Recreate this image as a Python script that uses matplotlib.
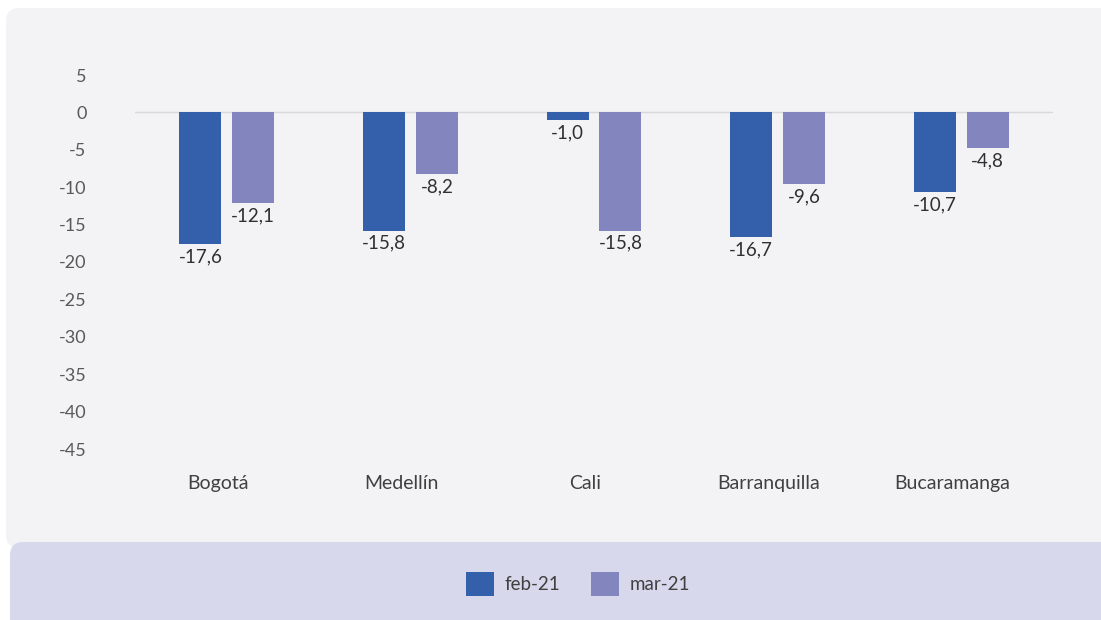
import numpy as np
import matplotlib.pyplot as plt
from matplotlib.patches import FancyBboxPatch, Patch

plt.rcParams['font.family'] = ['Lato', 'DejaVu Sans']
plt.rcParams['axes.unicode_minus'] = False

cities = ['Bogotá', 'Medellín', 'Cali', 'Barranquilla', 'Bucaramanga']
feb = [-17.6, -15.8, -1.0, -16.7, -10.7]
mar = [-12.1, -8.2, -15.8, -9.6, -4.8]
yticks = [5, 0, -5, -10, -15, -20, -25, -30, -35, -40, -45]

W, H = 1101, 620
fig = plt.figure(figsize=(W / 100, H / 100), dpi=100)
fig.patch.set_facecolor('white')

# background panels
fig.patches.append(FancyBboxPatch((6 / W, 1 - 548 / H), 1.2, 540 / H,
                                  boxstyle='round,pad=0,rounding_size=0.012',
                                  transform=fig.transFigure, facecolor='#F3F3F6',
                                  edgecolor='none', zorder=-2, mutation_aspect=W / H))
fig.patches.append(FancyBboxPatch((10 / W, -0.1), 1.2, 0.1 + 78 / H,
                                  boxstyle='round,pad=0,rounding_size=0.012',
                                  transform=fig.transFigure, facecolor='#D8D8EC',
                                  edgecolor='none', zorder=-1, mutation_aspect=W / H))

ax = fig.add_axes([135 / W, 1 - 449 / H, (1053 - 135) / W, (449 - 75) / H])
ax.set_zorder(2)
ax.set_facecolor('none')
x = np.arange(len(cities))
bw = 0.229
off = 0.144
c_feb = '#345FAA'
c_mar = '#8385BE'
ax.bar(x - off, feb, bw, color=c_feb, zorder=3)
ax.bar(x + off, mar, bw, color=c_mar, zorder=3)
ax.axhline(0, color='#D9D9D9', lw=1, zorder=1)

fs = 13.5
ax.set_xlim(-0.5, len(cities) - 0.5)
ax.set_ylim(-45, 5)
ax.set_yticks(yticks)
ax.set_yticklabels([str(t) for t in yticks], fontsize=13, color='#595959')
ax.tick_params(axis='y', length=0, pad=35)
for lab in ax.get_yticklabels():
    lab.set_horizontalalignment('right')
ax.set_xticks(x - 0.05)
ax.set_xticklabels(cities, fontsize=14, color='#404040')
ax.tick_params(axis='x', length=0, pad=19)
for s in ax.spines.values():
    s.set_visible(False)

for xi, v in zip(x - off, feb):
    ax.annotate(f'{v:.1f}'.replace('.', ','), (xi, v), xytext=(0, -3),
                textcoords='offset points', ha='center', va='top',
                fontsize=fs, color='#303030')
for xi, v in zip(x + off, mar):
    ax.annotate(f'{v:.1f}'.replace('.', ','), (xi, v), xytext=(0, -3),
                textcoords='offset points', ha='center', va='top',
                fontsize=fs, color='#303030')

handles = [Patch(facecolor=c_feb, label='feb-21'), Patch(facecolor=c_mar, label='mar-21')]
leg = fig.legend(handles=handles, loc='center', bbox_to_anchor=(578 / W, 1 - 584 / H),
                 ncol=2, frameon=False, fontsize=13.5,
                 handlelength=1.5, handleheight=1.65,
                 columnspacing=1.6, handletextpad=0.6, labelcolor='#404040')
leg.set_zorder(3)

fig.savefig('out.png', dpi=100)
